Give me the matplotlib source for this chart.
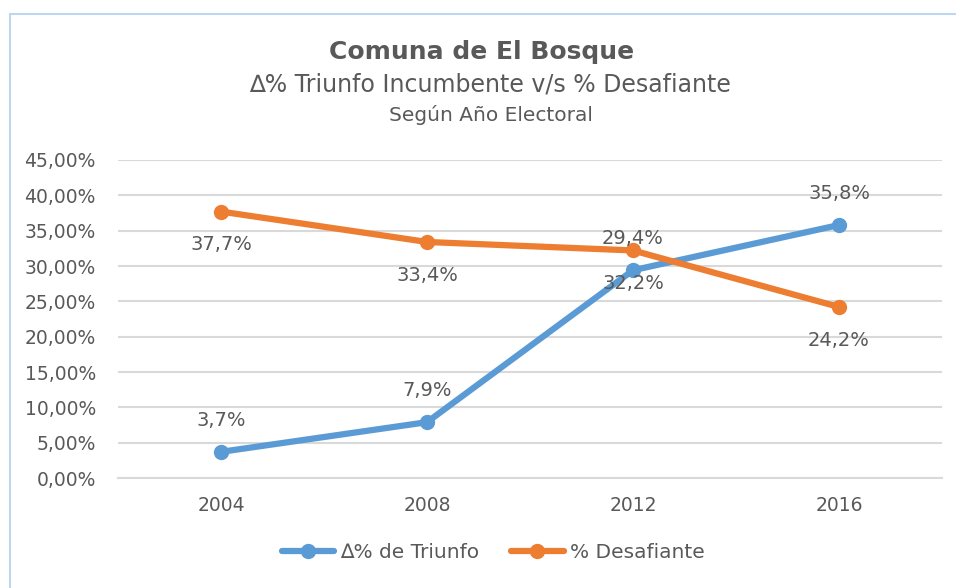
import matplotlib
matplotlib.use('Agg')
import matplotlib.pyplot as plt
from matplotlib.patches import Rectangle

years = ['2004', '2008', '2012', '2016']
triunfo = [3.7, 7.9, 29.4, 35.8]
desafiante = [37.7, 33.4, 32.2, 24.2]
yticks = [0, 5, 10, 15, 20, 25, 30, 35, 40, 45]

blue = '#5B9BD5'
orange = '#ED7D31'
gray = '#595959'

plt.rcParams['font.family'] = ['DejaVu Sans']

fig = plt.figure(figsize=(9.56, 5.88), dpi=100)
ax = fig.add_axes([118/956, 1 - 478/588, (942-118)/956, (478-160)/588])

# chart border
fig.patches.append(Rectangle((10/956, -0.1), 1.2, 1 - 14/588 + 0.1,
                             transform=fig.transFigure, fill=False,
                             edgecolor='#BDD7EE', linewidth=1.5))

x = range(len(years))
ax.plot(x, triunfo, color=blue, linewidth=4.5, marker='o', markersize=10,
        label='∆% de Triunfo', solid_capstyle='round')
ax.plot(x, desafiante, color=orange, linewidth=4.5, marker='o', markersize=10,
        label='% Desafiante', solid_capstyle='round')

for i, v in enumerate(triunfo):
    ax.annotate(f'{v:.1f}%'.replace('.', ','), (i, v), xytext=(0, 16),
                textcoords='offset points', ha='center', va='bottom',
                fontsize=14, color=gray)
for i, v in enumerate(desafiante):
    ax.annotate(f'{v:.1f}%'.replace('.', ','), (i, v), xytext=(0, -17),
                textcoords='offset points', ha='center', va='top',
                fontsize=14, color=gray)

ax.set_xlim(-0.5, 3.5)
ax.set_ylim(0, 45)
ax.set_yticks(yticks)
ax.set_yticklabels([f'{t:.2f}%'.replace('.', ',') for t in yticks])
ax.set_xticks(list(x))
ax.set_xticklabels(years)
ax.tick_params(axis='both', length=0, labelsize=14, colors=gray)
ax.tick_params(axis='x', labelsize=13.5)
ax.tick_params(axis='y', labelsize=13.5, pad=16)
ax.tick_params(axis='x', pad=13)
ax.grid(axis='y', color='#D9D9D9', linewidth=1.5)
ax.set_axisbelow(True)
for s in ['top', 'right', 'left']:
    ax.spines[s].set_visible(False)
ax.spines['bottom'].set_color('#D9D9D9')
ax.spines['bottom'].set_linewidth(1.5)

fig.text(482/956, 1 - 52/588, 'Comuna de El Bosque', ha='center', va='center',
         fontsize=18, fontweight='bold', color=gray)
fig.text(490/956, 1 - 85/588, '∆% Triunfo Incumbente v/s % Desafiante', ha='center',
         va='center', fontsize=17, color=gray)
fig.text(491/956, 1 - 115/588, 'Según Año Electoral', ha='center', va='center',
         fontsize=14.5, color=gray)

fig.legend(loc='center', bbox_to_anchor=(493/956, 1 - 553/588), ncol=2, frameon=False,
           fontsize=14.5, labelcolor=gray, handlelength=2.6, handletextpad=0.3,
           columnspacing=1.6)

plt.savefig('out.png', dpi=100)
